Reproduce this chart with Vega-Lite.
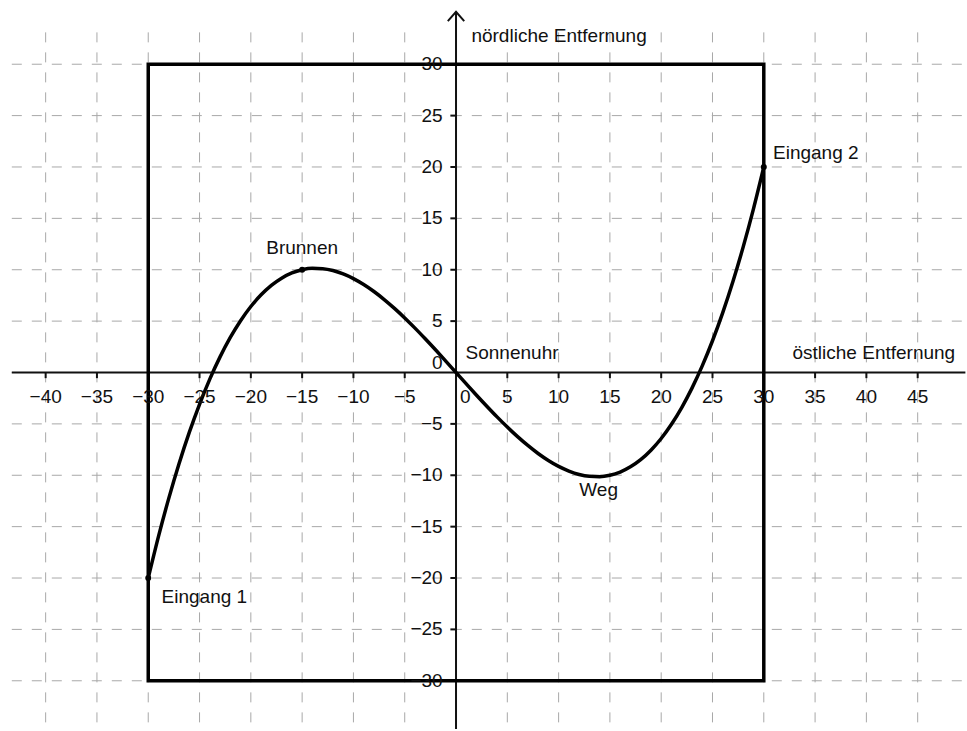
{
  "$schema": "https://vega.github.io/schema/vega-lite/v6.json",
  "width": 967,
  "height": 731,
  "padding": 0,
  "autosize": {"type": "fit", "contains": "padding"},
  "background": "white",
  "config": {"view": {"stroke": null}, "text": {"font": "Liberation Sans", "fontSize": 19, "color": "#111"}},
  "datasets": {
    "gridx": [{"v":-40},{"v":-35},{"v":-30},{"v":-25},{"v":-20},{"v":-15},{"v":-10},{"v":-5},{"v":0},{"v":5},{"v":10},{"v":15},{"v":20},{"v":25},{"v":30},{"v":35},{"v":40},{"v":45}],
    "gridy": [{"v":-30},{"v":-25},{"v":-20},{"v":-15},{"v":-10},{"v":-5},{"v":0},{"v":5},{"v":10},{"v":15},{"v":20},{"v":25},{"v":30}],
    "xticks": [{"v":-40,"label":"−40"},{"v":-35,"label":"−35"},{"v":-30,"label":"−30"},{"v":-25,"label":"−25"},{"v":-20,"label":"−20"},{"v":-15,"label":"−15"},{"v":-10,"label":"−10"},{"v":-5,"label":"−5"},{"v":5,"label":"5"},{"v":10,"label":"10"},{"v":15,"label":"15"},{"v":20,"label":"20"},{"v":25,"label":"25"},{"v":30,"label":"30"},{"v":35,"label":"35"},{"v":40,"label":"40"},{"v":45,"label":"45"}],
    "yticks": [{"v":-30,"label":"−30"},{"v":-25,"label":"−25"},{"v":-20,"label":"−20"},{"v":-15,"label":"−15"},{"v":-10,"label":"−10"},{"v":-5,"label":"−5"},{"v":5,"label":"5"},{"v":10,"label":"10"},{"v":15,"label":"15"},{"v":20,"label":"20"},{"v":25,"label":"25"},{"v":30,"label":"30"}],
    "square": [{"x":-30,"y":-30,"i":0},{"x":-30,"y":30,"i":1},{"x":30,"y":30,"i":2},{"x":30,"y":-30,"i":3},{"x":-30,"y":-30,"i":4}],
    "curve": [
      {"x":-30,"y":-20.0},{"x":-29,"y":-15.95},{"x":-28,"y":-12.25},{"x":-27,"y":-8.88},{"x":-26,"y":-5.83},{"x":-25,"y":-3.09},{"x":-24,"y":-0.64},{"x":-23,"y":1.52},{"x":-22,"y":3.41},{"x":-21,"y":5.04},{"x":-20,"y":6.42},{"x":-19,"y":7.56},{"x":-18,"y":8.48},{"x":-17,"y":9.18},{"x":-16,"y":9.69},{"x":-15,"y":10.0},{"x":-14,"y":10.14},{"x":-13,"y":10.1},{"x":-12,"y":9.92},{"x":-11,"y":9.59},{"x":-10,"y":9.14},{"x":-9,"y":8.56},{"x":-8,"y":7.88},{"x":-7,"y":7.1},{"x":-6,"y":6.24},{"x":-5,"y":5.31},{"x":-4,"y":4.32},{"x":-3,"y":3.28},{"x":-2,"y":2.21},{"x":-1,"y":1.11},
      {"x":0,"y":0},
      {"x":1,"y":-1.11},{"x":2,"y":-2.21},{"x":3,"y":-3.28},{"x":4,"y":-4.32},{"x":5,"y":-5.31},{"x":6,"y":-6.24},{"x":7,"y":-7.1},{"x":8,"y":-7.88},{"x":9,"y":-8.56},{"x":10,"y":-9.14},{"x":11,"y":-9.59},{"x":12,"y":-9.92},{"x":13,"y":-10.1},{"x":14,"y":-10.14},{"x":15,"y":-10.0},{"x":16,"y":-9.69},{"x":17,"y":-9.18},{"x":18,"y":-8.48},{"x":19,"y":-7.56},{"x":20,"y":-6.42},{"x":21,"y":-5.04},{"x":22,"y":-3.41},{"x":23,"y":-1.52},{"x":24,"y":0.64},{"x":25,"y":3.09},{"x":26,"y":5.83},{"x":27,"y":8.88},{"x":28,"y":12.25},{"x":29,"y":15.95},{"x":30,"y":20.0}
    ],
    "points": [{"x":-30,"y":-20},{"x":-15,"y":10},{"x":30,"y":20}],
    "leftlabels": [
      {"x":1.5,"y":32.75,"text":"nördliche Entfernung"},
      {"x":32.8,"y":1.94,"text":"östliche Entfernung"},
      {"x":0.93,"y":1.94,"text":"Sonnenuhr"},
      {"x":-28.7,"y":-21.8,"text":"Eingang 1"},
      {"x":30.9,"y":21.4,"text":"Eingang 2"}
    ],
    "centerlabels": [
      {"x":-15,"y":12.15,"text":"Brunnen"},
      {"x":13.9,"y":-11.4,"text":"Weg"}
    ],
    "xzero": [{"x":0.9,"y":-2.43,"text":"0"}],
    "yzero": [{"x":-1.3,"y":0.97,"text":"0"}],
    "arrow": [{"x":-0.8,"y":34.2,"i":0},{"x":0,"y":35.1,"i":1},{"x":0.8,"y":34.2,"i":2}]
  },
  "layer": [
    {
      "data": {"name": "gridx"},
      "mark": {"type": "rule", "stroke": "#a8a8a8", "strokeWidth": 1, "strokeDash": [10, 10]},
      "encoding": {
        "x": {"field": "v", "type": "quantitative", "scale": {"domain": [-44.45, 49.71], "nice": false, "zero": false}, "axis": null},
        "y": {"datum": 33.1, "type": "quantitative", "scale": {"domain": [-34.79, 36.25], "nice": false, "zero": false}, "axis": null},
        "y2": {"datum": -34.7}
      }
    },
    {
      "data": {"name": "gridy"},
      "mark": {"type": "rule", "stroke": "#a8a8a8", "strokeWidth": 1, "strokeDash": [10, 10]},
      "encoding": {
        "y": {"field": "v", "type": "quantitative", "scale": {"domain": [-34.79, 36.25], "nice": false, "zero": false}, "axis": null},
        "x": {"datum": -43.3, "type": "quantitative", "scale": {"domain": [-44.45, 49.71], "nice": false, "zero": false}, "axis": null},
        "x2": {"datum": 49.65}
      }
    },
    {
      "data": {"values": [{}]},
      "mark": {"type": "rule", "stroke": "#111", "strokeWidth": 2},
      "encoding": {
        "y": {"datum": 0, "type": "quantitative", "scale": {"domain": [-34.79, 36.25], "nice": false, "zero": false}, "axis": null},
        "x": {"datum": -43.3, "type": "quantitative", "scale": {"domain": [-44.45, 49.71], "nice": false, "zero": false}, "axis": null},
        "x2": {"datum": 49.65}
      }
    },
    {
      "data": {"values": [{}]},
      "mark": {"type": "rule", "stroke": "#111", "strokeWidth": 2},
      "encoding": {
        "x": {"datum": 0, "type": "quantitative", "scale": {"domain": [-44.45, 49.71], "nice": false, "zero": false}, "axis": null},
        "y": {"datum": 35.1, "type": "quantitative", "scale": {"domain": [-34.79, 36.25], "nice": false, "zero": false}, "axis": null},
        "y2": {"datum": -34.7}
      }
    },
    {
      "data": {"name": "arrow"},
      "mark": {"type": "line", "stroke": "#111", "strokeWidth": 2},
      "encoding": {
        "x": {"field": "x", "type": "quantitative", "scale": {"domain": [-44.45, 49.71], "nice": false, "zero": false}, "axis": null},
        "y": {"field": "y", "type": "quantitative", "scale": {"domain": [-34.79, 36.25], "nice": false, "zero": false}, "axis": null},
        "order": {"field": "i"}
      }
    },
    {
      "data": {"name": "xticks"},
      "mark": {"type": "rule", "stroke": "#111", "strokeWidth": 2},
      "encoding": {
        "x": {"field": "v", "type": "quantitative", "scale": {"domain": [-44.45, 49.71], "nice": false, "zero": false}, "axis": null},
        "y": {"datum": 0, "type": "quantitative", "scale": {"domain": [-34.79, 36.25], "nice": false, "zero": false}, "axis": null},
        "y2": {"datum": -0.55}
      }
    },
    {
      "data": {"name": "yticks"},
      "mark": {"type": "rule", "stroke": "#111", "strokeWidth": 2},
      "encoding": {
        "y": {"field": "v", "type": "quantitative", "scale": {"domain": [-34.79, 36.25], "nice": false, "zero": false}, "axis": null},
        "x": {"datum": 0, "type": "quantitative", "scale": {"domain": [-44.45, 49.71], "nice": false, "zero": false}, "axis": null},
        "x2": {"datum": -0.55}
      }
    },
    {
      "data": {"name": "square"},
      "mark": {"type": "line", "stroke": "#000", "strokeWidth": 3.5, "strokeJoin": "miter", "strokeCap": "square"},
      "encoding": {
        "x": {"field": "x", "type": "quantitative", "scale": {"domain": [-44.45, 49.71], "nice": false, "zero": false}, "axis": null},
        "y": {"field": "y", "type": "quantitative", "scale": {"domain": [-34.79, 36.25], "nice": false, "zero": false}, "axis": null},
        "order": {"field": "i"}
      }
    },
    {
      "data": {"name": "curve"},
      "mark": {"type": "line", "stroke": "#000", "strokeWidth": 3.5, "interpolate": "monotone"},
      "encoding": {
        "x": {"field": "x", "type": "quantitative", "scale": {"domain": [-44.45, 49.71], "nice": false, "zero": false}, "axis": null},
        "y": {"field": "y", "type": "quantitative", "scale": {"domain": [-34.79, 36.25], "nice": false, "zero": false}, "axis": null}
      }
    },
    {
      "data": {"name": "points"},
      "mark": {"type": "point", "filled": true, "color": "#000", "size": 36, "opacity": 1},
      "encoding": {
        "x": {"field": "x", "type": "quantitative", "scale": {"domain": [-44.45, 49.71], "nice": false, "zero": false}, "axis": null},
        "y": {"field": "y", "type": "quantitative", "scale": {"domain": [-34.79, 36.25], "nice": false, "zero": false}, "axis": null}
      }
    },
    {
      "data": {"name": "xticks"},
      "mark": {"type": "text", "align": "center", "baseline": "middle"},
      "encoding": {
        "x": {"field": "v", "type": "quantitative", "scale": {"domain": [-44.45, 49.71], "nice": false, "zero": false}, "axis": null},
        "y": {"datum": -2.43, "type": "quantitative", "scale": {"domain": [-34.79, 36.25], "nice": false, "zero": false}, "axis": null},
        "text": {"field": "label"}
      }
    },
    {
      "data": {"name": "yticks"},
      "mark": {"type": "text", "align": "right", "baseline": "middle"},
      "encoding": {
        "y": {"field": "v", "type": "quantitative", "scale": {"domain": [-34.79, 36.25], "nice": false, "zero": false}, "axis": null},
        "x": {"datum": -1.3, "type": "quantitative", "scale": {"domain": [-44.45, 49.71], "nice": false, "zero": false}, "axis": null},
        "text": {"field": "label"}
      }
    },
    {
      "data": {"name": "xzero"},
      "mark": {"type": "text", "align": "center", "baseline": "middle"},
      "encoding": {
        "x": {"field": "x", "type": "quantitative", "scale": {"domain": [-44.45, 49.71], "nice": false, "zero": false}, "axis": null},
        "y": {"field": "y", "type": "quantitative", "scale": {"domain": [-34.79, 36.25], "nice": false, "zero": false}, "axis": null},
        "text": {"field": "text"}
      }
    },
    {
      "data": {"name": "yzero"},
      "mark": {"type": "text", "align": "right", "baseline": "middle"},
      "encoding": {
        "x": {"field": "x", "type": "quantitative", "scale": {"domain": [-44.45, 49.71], "nice": false, "zero": false}, "axis": null},
        "y": {"field": "y", "type": "quantitative", "scale": {"domain": [-34.79, 36.25], "nice": false, "zero": false}, "axis": null},
        "text": {"field": "text"}
      }
    },
    {
      "data": {"name": "leftlabels"},
      "mark": {"type": "text", "align": "left", "baseline": "middle"},
      "encoding": {
        "x": {"field": "x", "type": "quantitative", "scale": {"domain": [-44.45, 49.71], "nice": false, "zero": false}, "axis": null},
        "y": {"field": "y", "type": "quantitative", "scale": {"domain": [-34.79, 36.25], "nice": false, "zero": false}, "axis": null},
        "text": {"field": "text"}
      }
    },
    {
      "data": {"name": "centerlabels"},
      "mark": {"type": "text", "align": "center", "baseline": "middle"},
      "encoding": {
        "x": {"field": "x", "type": "quantitative", "scale": {"domain": [-44.45, 49.71], "nice": false, "zero": false}, "axis": null},
        "y": {"field": "y", "type": "quantitative", "scale": {"domain": [-34.79, 36.25], "nice": false, "zero": false}, "axis": null},
        "text": {"field": "text"}
      }
    }
  ]
}
